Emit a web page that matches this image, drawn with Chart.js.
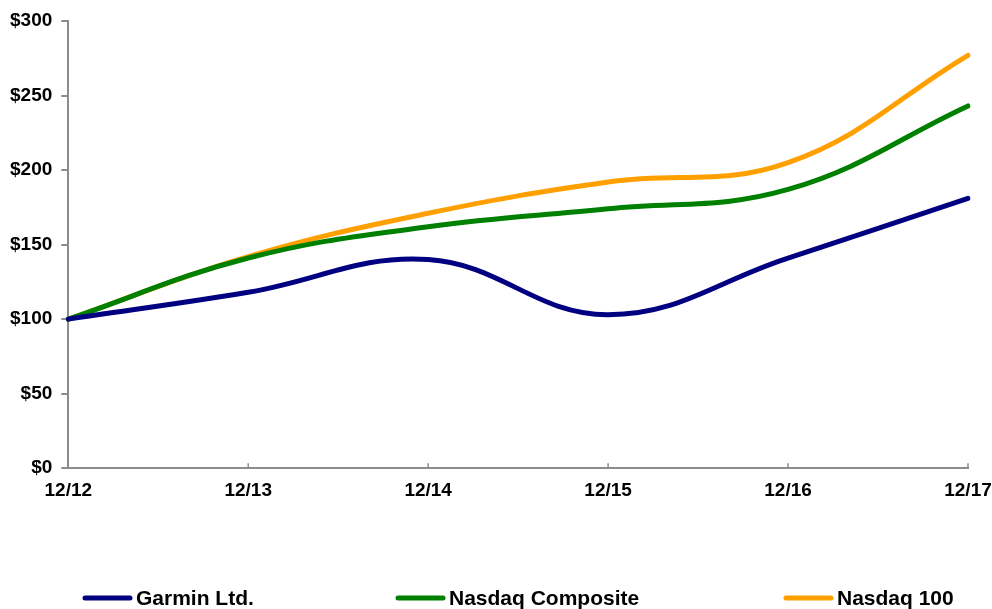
<!DOCTYPE html>
<html>
<head>
<meta charset="utf-8">
<script src="https://cdn.jsdelivr.net/npm/chart.js@4/dist/chart.umd.min.js"></script>
<style>
  html, body { margin: 0; padding: 0; background: #fff; }
  #wrap { width: 992px; height: 609px; }
</style>
</head>
<body>
<div id="wrap"><canvas id="c" width="992" height="609"></canvas></div>
<script>
// values
const periods = ['12/12', '12/13', '12/14', '12/15', '12/16', '12/17'];
const garmin = [100, 118, 140, 103, 141, 181];
const nasdaqComposite = [100, 141, 162, 174, 187, 243];
const nasdaq100 = [100, 142, 171, 192, 205, 277];

const axisGray = '#8c8c8c';
const fontFamily = '"Liberation Sans", Arial, sans-serif';
const font = { family: fontFamily, weight: 'bold', size: 19 };

// small inward tick marks on the x axis
const innerTicks = {
  id: 'innerTicks',
  afterDraw(chart) {
    const x = chart.scales.x, ctx = chart.ctx;
    ctx.save();
    ctx.strokeStyle = axisGray;
    ctx.lineWidth = 1.5;
    x.ticks.forEach((t, i) => {
      const px = x.getPixelForTick(i);
      ctx.beginPath();
      ctx.moveTo(px, x.top);
      ctx.lineTo(px, x.top - 5);
      ctx.stroke();
    });
    ctx.restore();
  }
};

// legend spread across the bottom like the original, one row
const legendStarts = [83, 396, 784];
const bottomLegend = {
  id: 'bottomLegend',
  afterDraw(chart) {
    const ctx = chart.ctx;
    const y = chart.height - 11;
    ctx.save();
    ctx.font = 'bold 21px ' + fontFamily;
    ctx.textBaseline = 'middle';
    chart.data.datasets.forEach((d, i) => {
      const x0 = legendStarts[i];
      ctx.strokeStyle = d.borderColor;
      ctx.lineWidth = 5;
      ctx.lineCap = 'round';
      ctx.beginPath();
      ctx.moveTo(x0 + 2, y);
      ctx.lineTo(x0 + 47, y);
      ctx.stroke();
      ctx.fillStyle = '#000';
      ctx.fillText(d.label, x0 + 53, y + 1);
    });
    ctx.restore();
  }
};

function ds(label, data, color) {
  return {
    label: label,
    data: data,
    borderColor: color,
    backgroundColor: color,
    borderWidth: 5,
    borderCapStyle: 'round',
    pointRadius: 0,
    tension: 0.4,
    fill: false
  };
}

new Chart(document.getElementById('c'), {
  type: 'line',
  data: {
    labels: periods,
    datasets: [
      ds('Garmin Ltd.', garmin, '#000080'),
      ds('Nasdaq Composite', nasdaqComposite, '#008000'),
      ds('Nasdaq 100', nasdaq100, '#ffa000')
    ]
  },
  options: {
    responsive: false,
    animation: false,
    layout: { padding: { left: 1, right: 24, top: 21, bottom: 96 } },
    plugins: {
      tooltip: { enabled: false },
      legend: { display: false }
    },
    scales: {
      x: {
        offset: false,
        grid: { display: false, drawTicks: false },
        border: { color: axisGray, width: 2 },
        ticks: { color: '#000', font: font, padding: 11, maxRotation: 0 },
        // last label may hang into the margin, as in the original
        afterFit: s => { s.paddingRight = 0; }
      },
      y: {
        min: 0,
        max: 300,
        grid: { drawOnChartArea: false, drawTicks: true, tickLength: 7, color: axisGray, lineWidth: 2 },
        border: { color: axisGray, width: 2 },
        ticks: {
          stepSize: 50,
          color: '#000',
          font: font,
          padding: 9,
          callback: v => '$' + v
        }
      }
    }
  },
  plugins: [innerTicks, bottomLegend]
});
</script>
</body>
</html>
